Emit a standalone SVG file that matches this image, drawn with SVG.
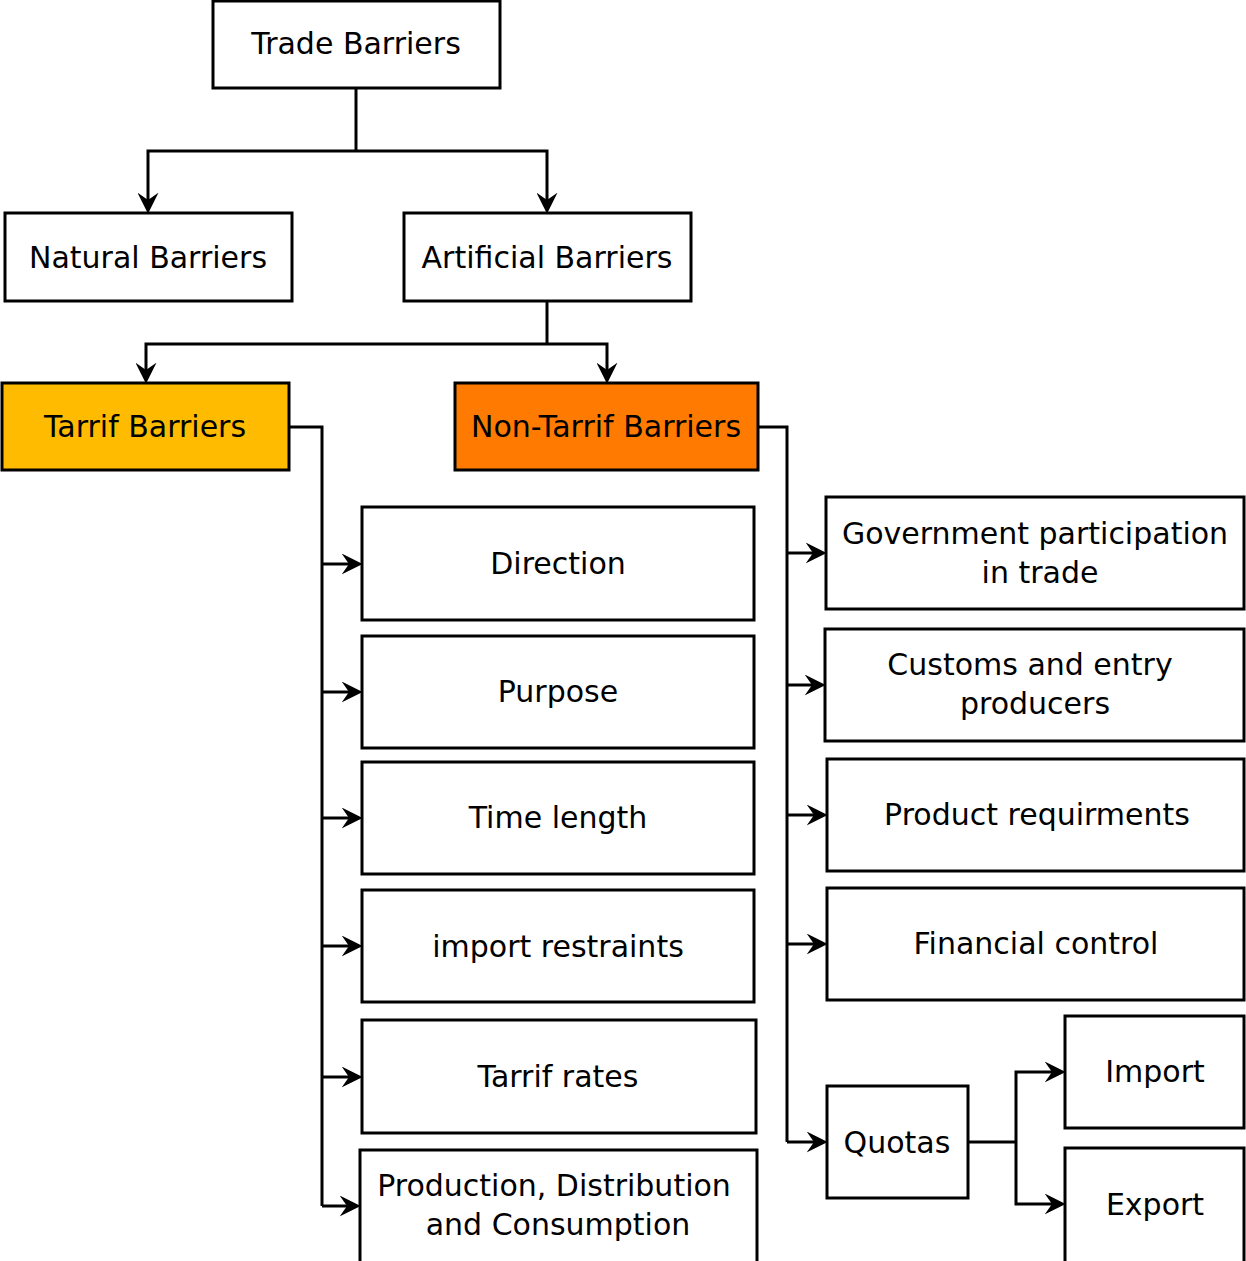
<svg xmlns="http://www.w3.org/2000/svg" width="1246" height="1261" viewBox="0 0 1246 1261">
<style>
.box{fill:#fff;stroke:#000;stroke-width:3}
.t{font-family:"DejaVu Sans",sans-serif;font-size:30px;text-anchor:middle;fill:#000}
.c{fill:none;stroke:#000;stroke-width:3}
.a{marker-end:url(#ah)}
</style>
<defs>
<marker id="ah" markerUnits="userSpaceOnUse" viewBox="0 0 20 20" markerWidth="21" markerHeight="21" refX="7" refY="10" orient="auto">
<path d="M0,0 L20,10 L0,20 L7,10 Z" fill="#000"/>
</marker>
</defs>
<rect width="1246" height="1261" fill="#fff"/>
<g id="connectors">
<path class="c" d="M356,88 V151"/>
<path class="c a" d="M356,151 H148 V200"/>
<path class="c a" d="M356,151 H547 V200"/>
<path class="c" d="M547,301 V344"/>
<path class="c a" d="M547,344 H146 V370"/>
<path class="c a" d="M547,344 H607 V370"/>
<path class="c" d="M289,427 H322 V1206"/>
<path class="c a" d="M322,564 H349"/>
<path class="c a" d="M322,692 H349"/>
<path class="c a" d="M322,818 H349"/>
<path class="c a" d="M322,946 H349"/>
<path class="c a" d="M322,1077 H349"/>
<path class="c a" d="M322,1206 H347"/>
<path class="c" d="M758,427 H787 V1142"/>
<path class="c a" d="M787,553 H813"/>
<path class="c a" d="M787,685 H812"/>
<path class="c a" d="M787,815 H814"/>
<path class="c a" d="M787,944 H814"/>
<path class="c a" d="M787,1142 H814"/>
<path class="c" d="M968,1142 H1016"/>
<path class="c a" d="M1016,1142 V1072 H1052"/>
<path class="c a" d="M1016,1142 V1204 H1052"/>
</g>
<g id="trade-barriers"><rect class="box" x="213" y="1" width="287" height="87"/><text class="t" x="356" y="54">Trade Barriers</text></g>
<g id="natural-barriers"><rect class="box" x="5" y="213" width="287" height="88"/><text class="t" x="148" y="268">Natural Barriers</text></g>
<g id="artificial-barriers"><rect class="box" x="404" y="213" width="287" height="88"/><text class="t" x="547" y="268">Artificial Barriers</text></g>
<g id="tarrif-barriers"><rect class="box" x="2" y="383" width="287" height="87" style="fill:#FFBB00"/><text class="t" x="145" y="437">Tarrif Barriers</text></g>
<g id="non-tarrif-barriers"><rect class="box" x="455" y="383" width="303" height="87" style="fill:#FF7A00"/><text class="t" x="606" y="437">Non-Tarrif Barriers</text></g>
<g id="direction"><rect class="box" x="362" y="507" width="392" height="113"/><text class="t" x="558" y="574">Direction</text></g>
<g id="purpose"><rect class="box" x="362" y="636" width="392" height="112"/><text class="t" x="558" y="702">Purpose</text></g>
<g id="time-length"><rect class="box" x="362" y="762" width="392" height="112"/><text class="t" x="558" y="828">Time length</text></g>
<g id="import-restraints"><rect class="box" x="362" y="890" width="392" height="112"/><text class="t" x="558" y="957">import restraints</text></g>
<g id="tarrif-rates"><rect class="box" x="362" y="1020" width="394" height="113"/><text class="t" x="558" y="1087">Tarrif rates</text></g>
<g id="production"><rect class="box" x="360" y="1150" width="397" height="114"/><text class="t" x="554" y="1196">Production, Distribution</text><text class="t" x="558" y="1235">and Consumption</text></g>
<g id="government"><rect class="box" x="826" y="497" width="418" height="112"/><text class="t" x="1035" y="544">Government participation</text><text class="t" x="1040" y="583">in trade</text></g>
<g id="customs"><rect class="box" x="825" y="629" width="419" height="112"/><text class="t" x="1030" y="675">Customs and entry</text><text class="t" x="1035" y="714">producers</text></g>
<g id="product"><rect class="box" x="827" y="759" width="417" height="112"/><text class="t" x="1037" y="825">Product requirments</text></g>
<g id="financial"><rect class="box" x="827" y="888" width="417" height="112"/><text class="t" x="1036" y="954">Financial control</text></g>
<g id="quotas"><rect class="box" x="827" y="1086" width="141" height="112"/><text class="t" x="897" y="1153">Quotas</text></g>
<g id="import"><rect class="box" x="1065" y="1016" width="179" height="112"/><text class="t" x="1155" y="1082">Import</text></g>
<g id="export"><rect class="box" x="1065" y="1148" width="179" height="115"/><text class="t" x="1155" y="1215">Export</text></g>
</svg>
